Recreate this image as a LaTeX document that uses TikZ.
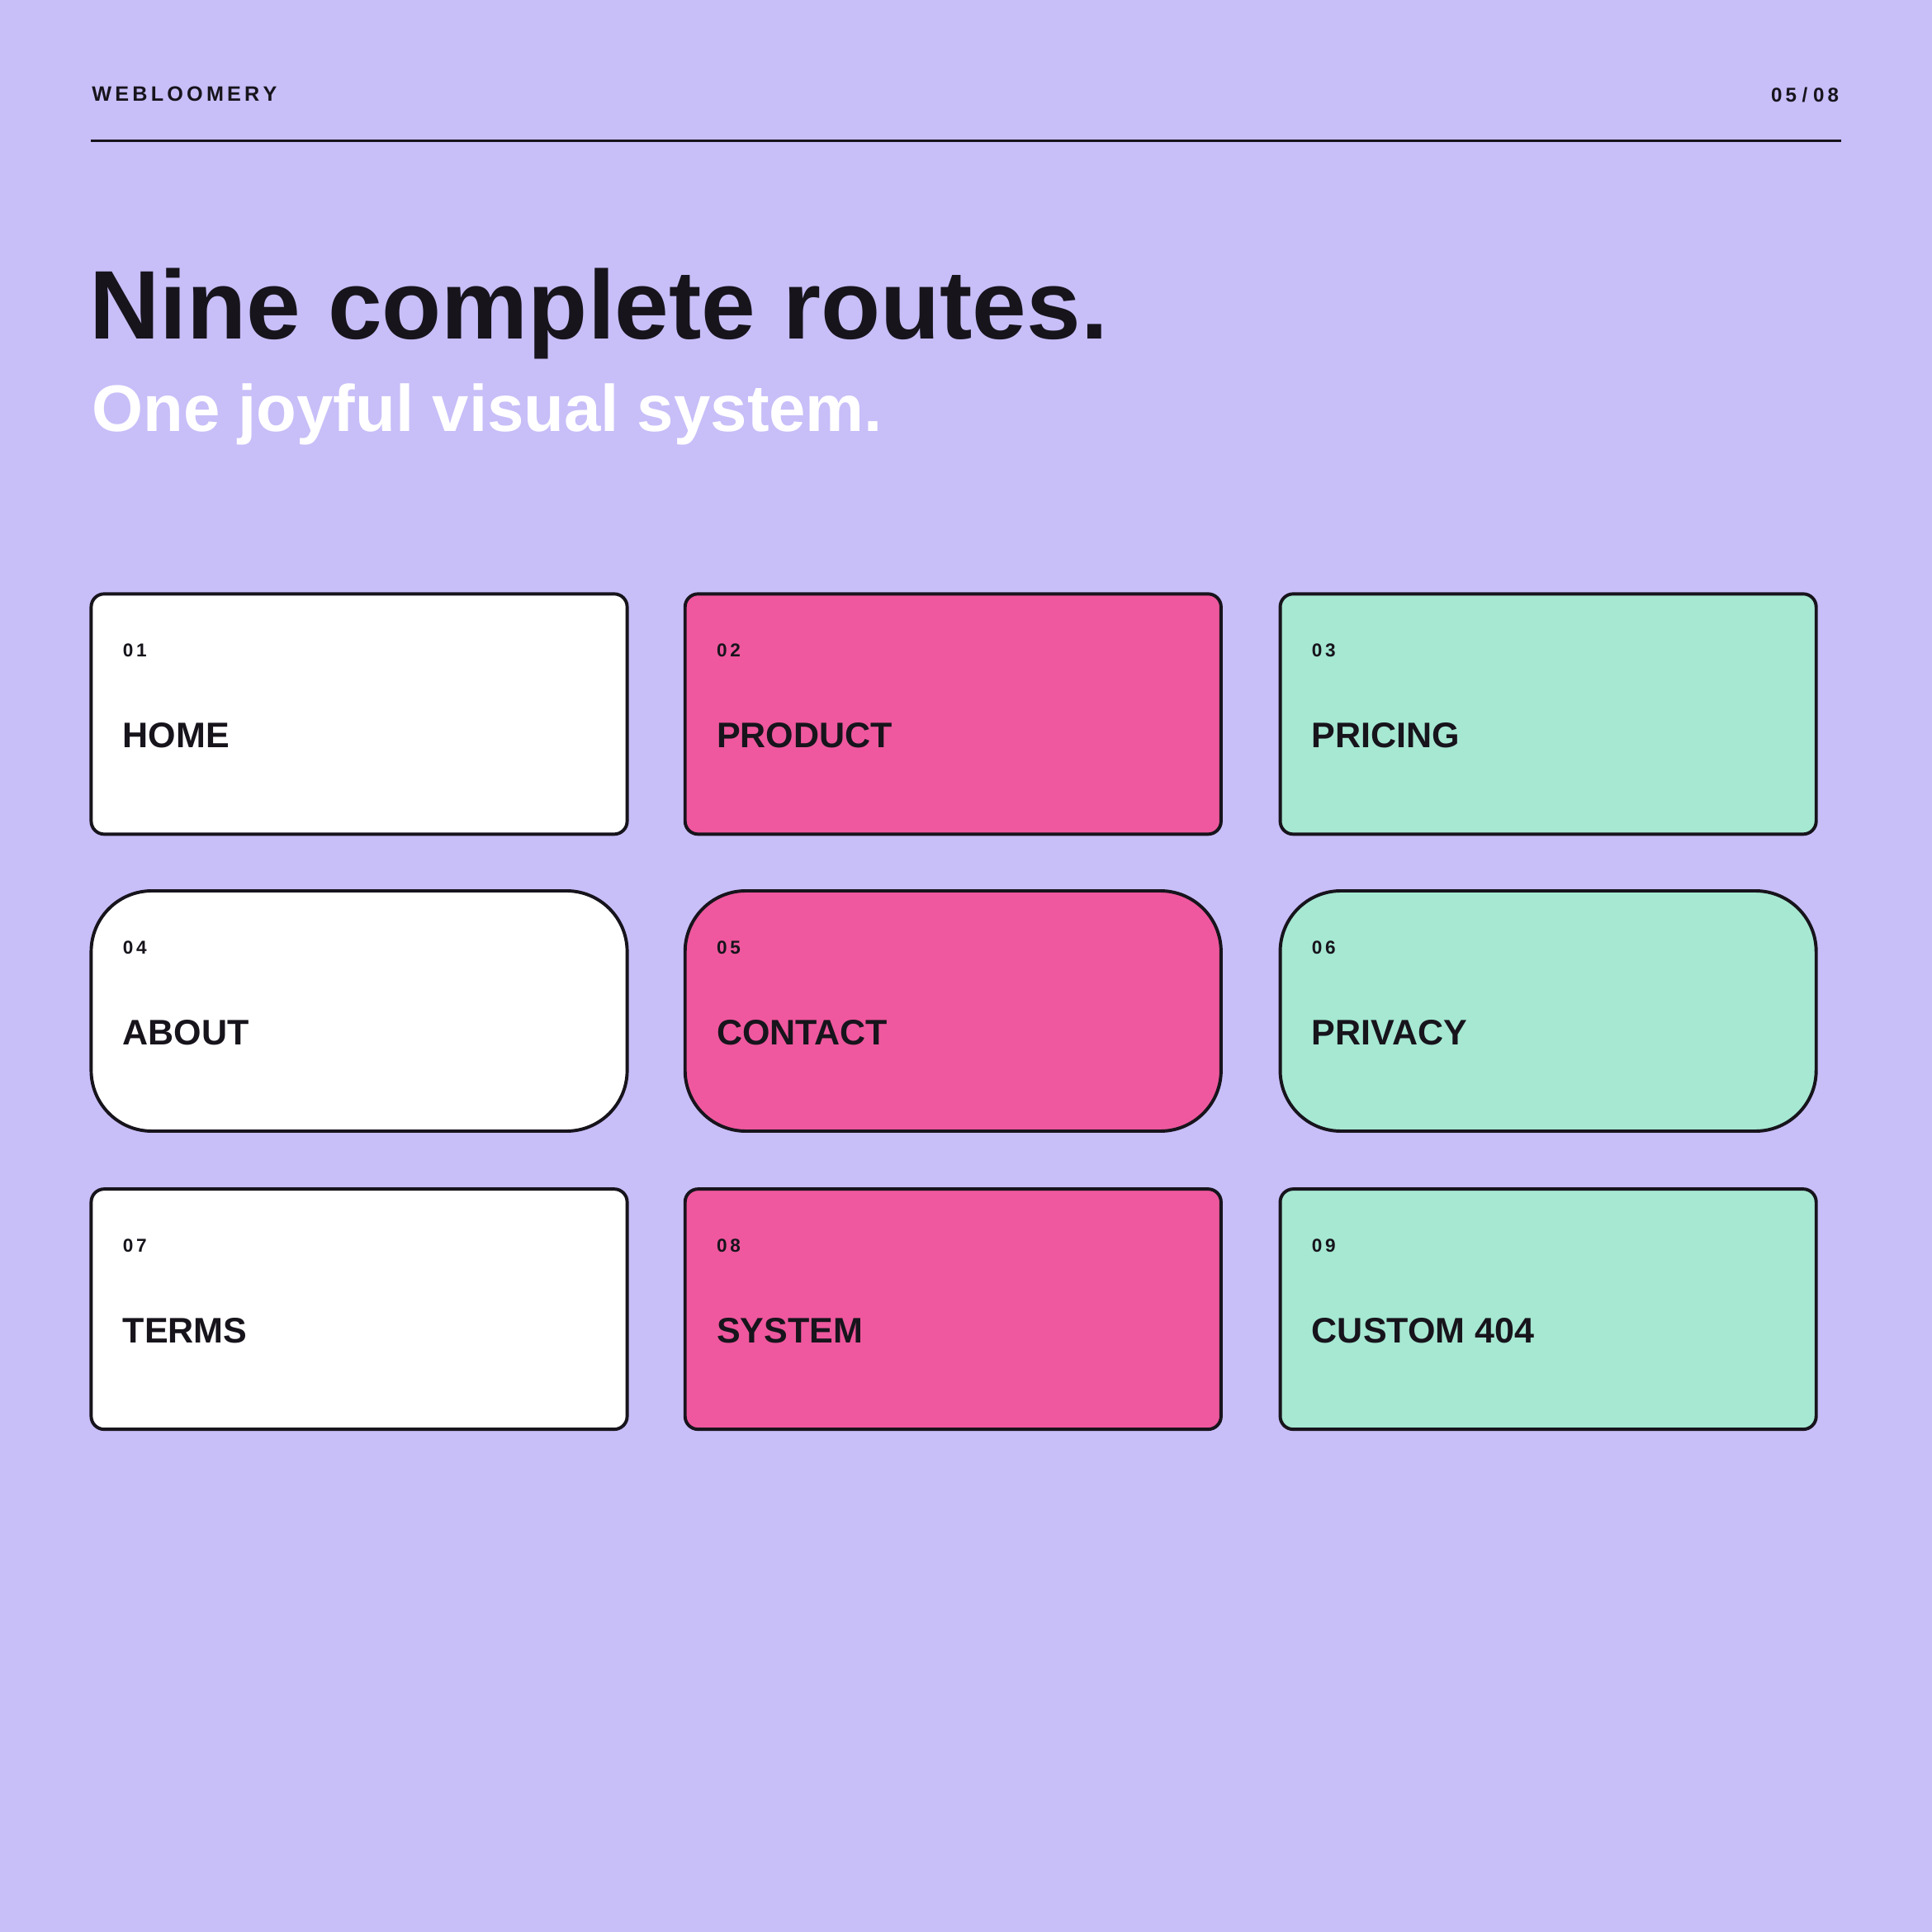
\documentclass[tikz,border=0pt]{standalone}
\usepackage{fontspec}
\setmainfont{Liberation Sans}
\definecolor{bg}{HTML}{C8BEF8}
\definecolor{pink}{HTML}{EF589E}
\definecolor{mint}{HTML}{A6E8D2}
\definecolor{ink}{HTML}{17141C}
\begin{document}
\begin{tikzpicture}[x=0.01cm,y=-0.01cm,
  card/.style={draw=ink,line width=0.75pt},
  num/.style={anchor=west,inner sep=0,text=ink,font=\bfseries\fontsize{4.3}{5}\selectfont},
  lab/.style={anchor=west,inner sep=0,text=ink,font=\bfseries\fontsize{8.2}{9}\selectfont}]
\fill[bg] (0,0) rectangle (1568,1568);
\useasboundingbox (0,0) rectangle (1568,1568);
\node[anchor=base west,inner sep=0,text=ink,font=\bfseries\fontsize{4.8}{6}\selectfont] (brand) at (74,82) {W\,E\,B\,L\,O\,O\,M\,E\,R\,Y};
\node[anchor=base east,inner sep=0,text=ink,font=\bfseries\fontsize{4.6}{6}\selectfont] (page) at (1493,83) {0\,5 / 0\,8};
\coordinate (l1) at (74,114); \coordinate (l2) at (1494,114);
\draw[ink,line width=0.6pt] (l1) -- (l2);
\node[anchor=base west,inner sep=0,text=ink,font=\bfseries\fontsize{22.5}{26}\selectfont] (title) at (72,275) {Nine complete routes.};
\node[anchor=base west,inner sep=0,text=white,font=\bfseries\fontsize{15.2}{18}\selectfont] (sub) at (74,350) {One joyful visual system.};
\def\xs{{74,556,1039}}
\foreach \r/\y/\rad in {0/482/3pt,1/723/14pt,2/965/3pt}{
  \foreach \c/\x/\col in {0/74/white,1/556/pink,2/1039/mint}{
    \pgfmathtruncatemacro{\n}{\r*3+\c+1}
    \draw[card,fill=\col,rounded corners=\rad] (\x,\y) rectangle ++(435,195);
    \node[num] (n\n) at (\x+25,\y+46) {0\,\n};
  }}
\foreach \n/\x/\y/\t in {1/74/482/HOME,2/556/482/PRODUCT,3/1039/482/PRICING,4/74/723/ABOUT,5/556/723/CONTACT,6/1039/723/PRIVACY,7/74/965/TERMS,8/556/965/SYSTEM,9/1039/965/CUSTOM 404}
  \node[lab] (t\n) at (\x+25,\y+115) {\t};
\end{tikzpicture}
\end{document}
